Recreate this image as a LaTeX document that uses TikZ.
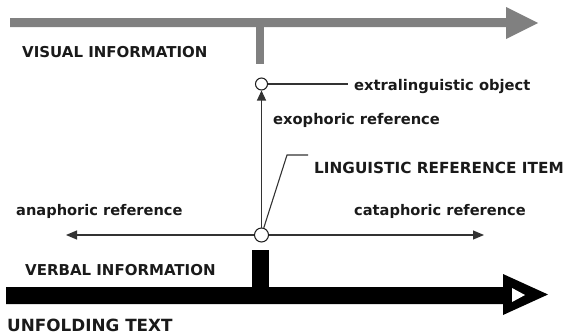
\documentclass[tikz,border=0pt]{standalone}
\usepackage{fontspec}
\setmainfont{DejaVu Sans}
\usetikzlibrary{arrows.meta}
\definecolor{visgray}{HTML}{808080}
\definecolor{ink}{HTML}{1A1A1A}
\definecolor{thin}{HTML}{333333}
\tikzset{
  lbl/.style={anchor=base west, inner sep=0pt, text=ink, font=\bfseries\fontsize{#1}{#1}\selectfont},
  ring/.style={circle, draw=ink, fill=white, line width=1pt, inner sep=0pt},
  fine/.style={draw=thin, line width=1.1pt},
}
\begin{document}
\begin{tikzpicture}[x=1pt,y=-1pt]
\useasboundingbox (0,0) rectangle (568,335);
% visual information arrow (gray)
\fill[visgray] (10,18) -- (506,18) -- (506,7) -- (538,23) -- (506,39) -- (506,27) -- (10,27) -- cycle;
\fill[visgray] (256,26) rectangle (264,64);
% unfolding text arrow (black)
\fill[black] (6,287) -- (503,287) -- (503,274) -- (548,294.5) -- (503,315) -- (503,304) -- (6,304) -- cycle;
\fill[white] (512,288) -- (525,295) -- (512,302) -- cycle;
\fill[black] (252,250) rectangle (269,288);
% circles
\node[ring, minimum size=12pt] (obj) at (261.5,84) {};
\node[ring, minimum size=14pt] (item) at (261.5,235) {};
% coordinates
\coordinate (ana) at (66,235);
\coordinate (cata) at (484,235);
\coordinate (objend) at (348,84);
\coordinate (bend) at (287,155);
\coordinate (itemend) at (308,155);
% connectors
\draw[fine, -{Triangle[length=11pt,width=9pt]}] (item) -- (ana);
\draw[fine, -{Triangle[length=11pt,width=9pt]}] (item) -- (cata);
\draw[fine, -{Triangle[length=10pt,width=9pt]}] (item) -- (obj);
\draw[fine] (obj) -- (objend);
\draw[fine] (item) -- (bend) -- (itemend);
% labels
\node[lbl=15] (vis) at (22,57) {VISUAL INFORMATION};
\node[lbl=15] (verb) at (25,275) {VERBAL INFORMATION};
\node[lbl=16.8] (unf) at (7,331) {UNFOLDING TEXT};
\node[lbl=14.6] (anal) at (16,215) {anaphoric reference};
\node[lbl=14.6] (catal) at (354,215) {cataphoric reference};
\node[lbl=14.7] (objl) at (354,90) {extralinguistic object};
\node[lbl=14.7] (exol) at (273,124) {exophoric reference};
\node[lbl=15.3] (iteml) at (314,173) {LINGUISTIC REFERENCE ITEM};
\end{tikzpicture}
\end{document}
